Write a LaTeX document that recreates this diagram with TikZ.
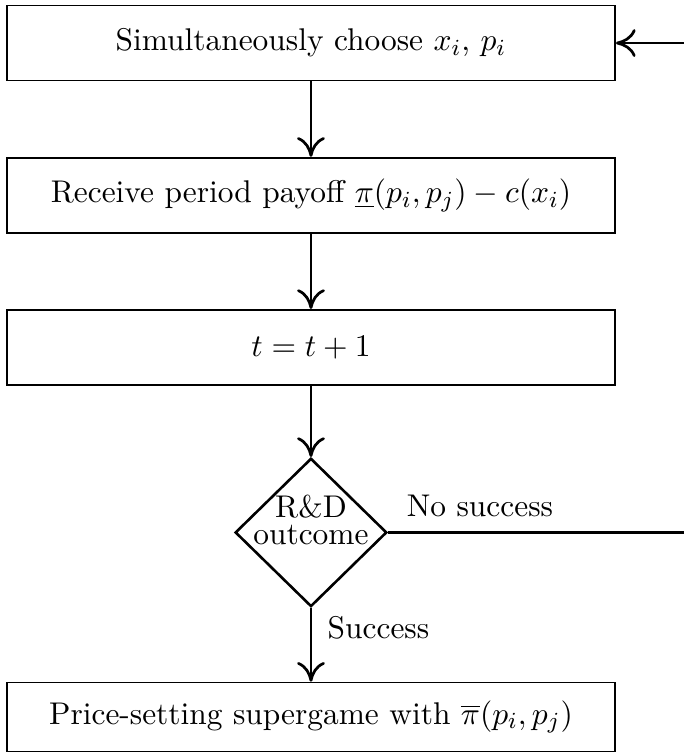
\documentclass[tikz,border=0pt]{standalone}
\usepackage{amsmath}
\usetikzlibrary{positioning,shapes.geometric,arrows.meta}

\begin{document}
\begin{tikzpicture}[
    node distance=0.92cm,
    every node/.style={font=\fontsize{10.9pt}{13pt}\selectfont},
    stage/.style={draw, line width=0.6pt, minimum width=7.42cm, minimum height=0.915cm, inner sep=0pt},
    decision/.style={diamond, draw, line width=0.9pt, minimum width=1.85cm, minimum height=1.81cm, inner sep=-4.4pt,
        text depth=8.7pt, align=center},
    flow/.style={line width=0.95pt, -{To[length=2.4mm,width=3.4mm]}},
    arrow label/.style={midway},
    right arrow label/.style={arrow label, right, align=left}
]
    \useasboundingbox (0,0) rectangle (8.345,-9.199);

    \node [stage] (choose) at (3.794,-0.525) {Simultaneously choose $x_i$, $p_i$};
    \node [stage, below=of choose] (payoff) {Receive period payoff $\underline{\pi}(p_i,p_j)-c(x_i)$};
    \node [stage, below=of payoff] (tick) {$t=t+1$};
    \node [decision, below=0.87cm of tick] (rnd) {R\&D\\[-3.5pt]outcome};
    \node [stage, minimum height=0.84cm, below=0.9cm of rnd] (supergame) {Price-setting supergame with $\overline{\pi}(p_i,p_j)$};

    \draw[flow] (choose) -- (payoff);
    \draw[flow] (payoff) -- (tick);
    \draw[flow] (tick) -- (rnd);
    \draw[flow] (rnd) -- (supergame) node[right arrow label, xshift=2pt, yshift=6pt] {Success};

    % loop back on the right edge
    \coordinate (loop_low) at (8.40,0 |- rnd.east);
    \coordinate (loop_high) at (8.40,0 |- choose.east);
    \draw[flow] (rnd.east) -- (loop_low) -- (loop_high) -- (choose.east);
    \draw (rnd.east) node[above right, xshift=3pt, yshift=2pt] {No success};
\end{tikzpicture}
\end{document}
